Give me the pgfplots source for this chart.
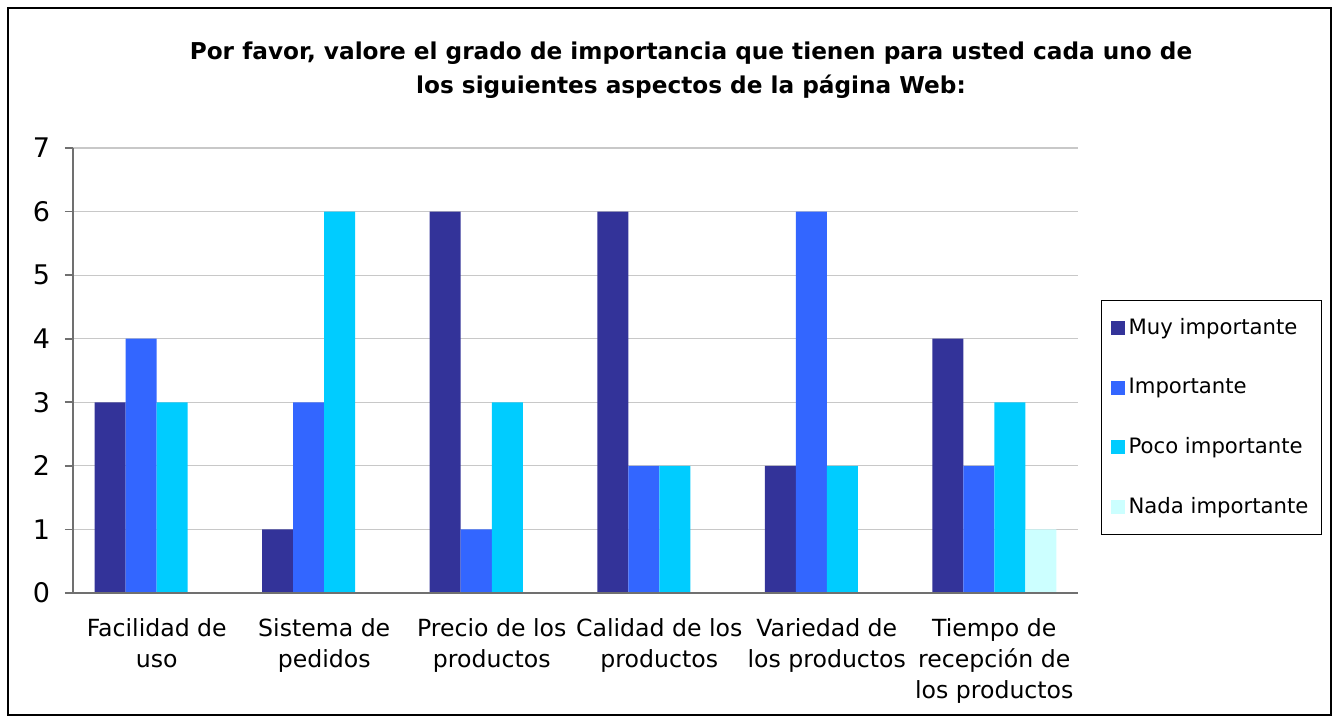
\documentclass[border=0pt]{standalone}
\usepackage{fontspec}
\setmainfont{DejaVu Sans}
\usepackage{pgfplots}
\pgfplotsset{compat=1.18}
\definecolor{cA}{HTML}{333399}
\definecolor{cB}{HTML}{3366FF}
\definecolor{cC}{HTML}{00CCFF}
\definecolor{cD}{HTML}{CCFFFF}
\definecolor{gridc}{HTML}{C8C8C8}
\definecolor{axisc}{HTML}{707070}
\begin{document}
\begin{tikzpicture}
\path[fill=white] (0pt,0pt) rectangle (669.5pt,361.5pt);
\draw[black, line width=0.6pt] (4pt,4pt) rectangle (665.5pt,357.5pt);
\node[font=\bfseries\fontsize{11.6}{17}\selectfont, align=center] at (345.5pt,326.2pt)
  {Por favor, valore el grado de importancia que tienen para usted cada uno de\\los siguientes aspectos de la página Web:};
\begin{axis}[
  at={(36.5pt,65pt)}, anchor=south west,
  scale only axis, width=502.5pt, height=222.5pt,
  ybar=0pt, bar width=15.5pt,
  xmin=0, xmax=6, ymin=0, ymax=7,
  xtick={0.5,1.5,2.5,3.5,4.5,5.5},
  xticklabels={{Facilidad de\\uso},{Sistema de\\pedidos},{Precio de los\\productos},{Calidad de los\\productos},{Variedad de\\los productos},{Tiempo de\\recepción de\\los productos}},
  minor xtick={0,1,2,3,4,5,6},
  ytick={0,1,2,3,4,5,6,7},
  x tick label style={align=center, font=\fontsize{11.8}{15.5}\selectfont, yshift=-5.5pt},
  y tick label style={font=\fontsize{13.5}{15}\selectfont, xshift=-4pt},
  /pgf/number format/assume math mode=true,
  tick align=outside,
  xtick pos=lower, ytick pos=left,
  x axis line style={draw=none},
  axis x line*=bottom, axis y line*=left,
  axis line style={axisc, line width=0.8pt},
  every tick/.style={axisc, line width=0.8pt},
  xtick style={draw=none},
  minor x tick style={axisc, line width=0.8pt},
  minor tick length=3.5pt,
  major tick length=4pt,
  ymajorgrids, grid style={gridc, line width=0.6pt},
  legend style={at={(1.0229,0.658)}, anchor=north west, draw=black, line width=0.6pt,
    font=\fontsize{10.6}{12.5}\selectfont, row sep=16.3pt, inner xsep=4.5pt, inner ysep=7pt},
  legend cell align=left,
  legend image code/.code={\fill[#1] (0pt,-3.5pt) rectangle (7pt,3.5pt);},
]
\addplot[fill=cA, draw=none] coordinates {(0.5,3) (1.5,1) (2.5,6) (3.5,6) (4.5,2) (5.5,4)};
\addplot[fill=cB, draw=none] coordinates {(0.5,4) (1.5,3) (2.5,1) (3.5,2) (4.5,6) (5.5,2)};
\addplot[fill=cC, draw=none] coordinates {(0.5,3) (1.5,6) (2.5,3) (3.5,2) (4.5,2) (5.5,3)};
\addplot[fill=cD, draw=none] coordinates {(0.5,0) (1.5,0) (2.5,0) (3.5,0) (4.5,0) (5.5,1)};
\legend{Muy importante, Importante, Poco importante, Nada importante}
\draw[axisc, line width=0.8pt] (axis cs:0,0) -- (axis cs:6,0);
\end{axis}
\end{tikzpicture}
\end{document}
